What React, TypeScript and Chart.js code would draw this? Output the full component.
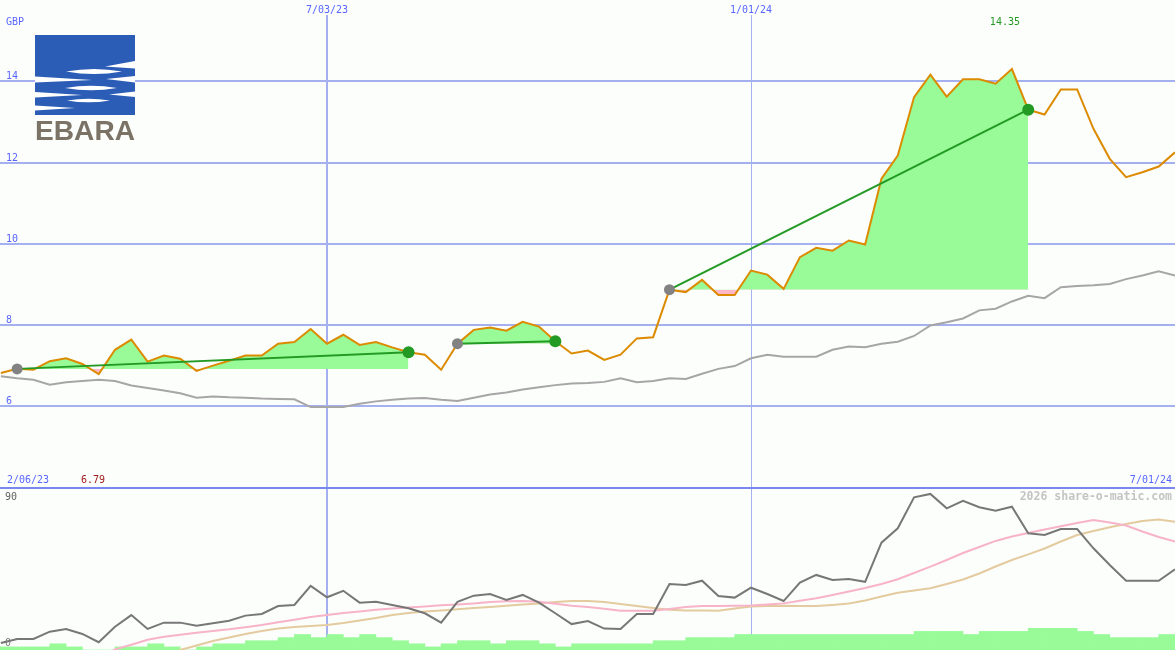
import React, { useEffect, useRef } from 'react';
import { Chart, registerables } from 'chart.js';

Chart.register(...registerables);

// ---------- data ----------
const currency = 'GBP';
const dateTickWeeks = [21, 47];
const dateTickLabels = ['7/03/23', '1/01/24'];
const viewStartWeek = 0.948;
const viewEndWeek = 73;
const firstWeek = 1;

const price = [
  6.82, 6.92, 6.9, 7.11, 7.18, 7.04, 6.79, 7.39, 7.64, 7.1,
  7.25, 7.17, 6.87, 7.0, 7.12, 7.25, 7.25, 7.54, 7.58, 7.9,
  7.54, 7.76, 7.51, 7.58, 7.45, 7.33, 7.27, 6.9, 7.54, 7.88,
  7.94, 7.86, 8.08, 7.96, 7.6, 7.3, 7.37, 7.14, 7.27, 7.67,
  7.7, 8.87, 8.81, 9.11, 8.74, 8.74, 9.34, 9.24, 8.89, 9.67,
  9.9, 9.83, 10.08, 9.98, 11.6, 12.17, 13.61, 14.16, 13.62, 14.05,
  14.05, 13.94, 14.3, 13.3, 13.18, 13.8, 13.8, 12.83, 12.09, 11.64,
  11.76, 11.9, 12.25,
];

const priceAverage = [
  6.74, 6.69, 6.65, 6.53, 6.59, 6.62, 6.65, 6.62, 6.51, 6.45,
  6.39, 6.32, 6.21, 6.24, 6.22, 6.21, 6.19, 6.18, 6.17, 5.98,
  5.98, 5.98, 6.06, 6.12, 6.16, 6.19, 6.2, 6.16, 6.13, 6.21,
  6.29, 6.34, 6.41, 6.47, 6.52, 6.56, 6.57, 6.6, 6.69, 6.59,
  6.62, 6.69, 6.67, 6.8, 6.92, 6.99, 7.18, 7.27, 7.22, 7.22,
  7.22, 7.39, 7.47, 7.45, 7.54, 7.59, 7.73, 7.99, 8.07, 8.16,
  8.36, 8.4, 8.58, 8.72, 8.66, 8.93, 8.96, 8.98, 9.01, 9.13,
  9.22, 9.32, 9.22,
];

const tradeEntryWeeks = [2, 29, 42];
const tradeExitWeeks = [26, 35, 64];

const oscillator = [
  3.9, 6.1, 6.1, 10.2, 11.7, 8.9, 4.3, 12.9, 19.4, 11.7,
  15.2, 15.2, 13.5, 14.8, 16.3, 19.1, 20.0, 24.4, 25.0, 35.6,
  29.3, 32.9, 26.3, 26.8, 25.0, 23.2, 20.4, 15.2, 26.8, 30.2,
  31.1, 27.8, 30.6, 26.3, 20.4, 14.4, 16.1, 11.9, 11.7, 20.0,
  20.0, 36.7, 36.1, 38.5, 30.0, 29.1, 34.6, 31.1, 27.2, 37.4,
  41.7, 38.9, 39.4, 37.9, 59.6, 67.6, 84.8, 86.7, 78.7, 82.9,
  79.3, 77.4, 79.6, 64.8, 63.9, 67.2, 67.2, 56.5, 47.2, 38.5,
  38.5, 38.5, 44.8,
];

const oscFast = [
  null, null, null, null, null, null, -5, 0.3, 2.9, 5.7,
  7.3, 8.5, 9.6, 10.6, 11.5, 12.7, 13.9, 15.4, 16.8, 18.3,
  19.4, 20.6, 21.4, 22.3, 23.1, 23.6, 24.1, 24.8, 25.3, 25.9,
  26.6, 27.1, 27.2, 26.8, 25.7, 24.6, 23.9, 22.9, 21.8, 21.8,
  21.8, 22.8, 23.9, 24.4, 24.4, 24.6, 24.7, 25.3, 25.9, 27.3,
  28.7, 30.6, 32.5, 34.4, 36.7, 39.3, 42.8, 46.3, 50.0, 53.9,
  57.2, 60.6, 63.1, 65.0, 66.9, 68.7, 70.6, 72.2, 70.8, 69.2,
  65.8, 62.8, 60.2,
];

const oscSlow = [
  null, null, null, null, null, null, null, null, null, null,
  -5, 0, 2.5, 5.0, 6.9, 8.9, 10.6, 11.9, 12.8, 13.3,
  13.9, 15.0, 16.4, 17.8, 19.4, 20.6, 21.4, 21.9, 22.6, 23.3,
  23.9, 24.6, 25.3, 25.9, 26.7, 27.2, 27.2, 26.7, 25.6, 24.4,
  23.3, 22.4, 22.0, 21.9, 21.8, 23.1, 24.2, 24.4, 24.6, 24.4,
  24.4, 25.0, 25.8, 27.5, 29.7, 31.8, 33.1, 34.3, 36.7, 39.2,
  42.5, 46.4, 50.0, 53.1, 56.4, 60.3, 63.9, 66.1, 68.2, 70.0,
  71.7, 72.5, 71.3,
];

// weekly volume bars (relative levels), interval starting at week 0
const volume = [
  1, 1, 1, 1, 2, 1, 0, 0, 1, 1,
  2, 1, 0, 1, 2, 2, 3, 3, 4, 5,
  4, 5, 4, 5, 4, 3, 2, 1, 2, 3,
  3, 2, 3, 3, 2, 1, 2, 2, 2, 2,
  2, 3, 3, 4, 4, 4, 5, 5, 5, 5,
  5, 5, 5, 5, 5, 5, 5, 6, 6, 6,
  5, 6, 6, 6, 7, 7, 7, 6, 5, 4,
  4, 4, 5,
];

const priceGridValues = [6, 8, 10, 12, 14];
const highWeek = 63;
const highLabel = '14.35';
const startLabel = '2/06/23';
const lowLabel = '6.79';
const endLabel = '7/01/24';
const oscTopLabel = '90';
const oscBottomLabel = '0';
const watermark = '2026 share-o-matic.com';

// ---------- styles ----------
const BG = '#fcfefc';
const GRID = '#a4b0f0';
const SEP = '#7888f0';
const BLUE = '#5866ff';
const ORANGE = '#dc8b00';
const MA_GRAY = '#a6a6a6';
const FILL_GREEN = '#98fb98';
const FILL_PINK = '#ffb6c6';
const TREND_GREEN = '#239a23';
const ENTRY_GRAY = '#828282';
const OSC_GRAY = '#777777';
const OSC_PINK = '#f7b3c8';
const OSC_TAN = '#e3cb9f';

const pts = (arr: (number | null)[], start: number) =>
  arr.map((v, k) => ({ x: start + k, y: v }));

const labelsPlugin = {
  id: 'labelsPlugin',
  beforeDraw(chart: any) {
    const { ctx, width, height } = chart;
    ctx.save();
    ctx.fillStyle = BG;
    ctx.fillRect(0, 0, width, height);
    ctx.restore();
  },
  afterDraw(chart: any) {
    const { ctx } = chart;
    const xs = chart.scales.x;
    const ys = chart.scales.y;
    ctx.save();
    ctx.fillStyle = BG;
    ctx.fillRect(0, 0, chart.width, 15);
    ctx.font = '10px "DejaVu Sans Mono", monospace';
    ctx.textBaseline = 'alphabetic';
    ctx.fillStyle = BLUE;
    ctx.textAlign = 'center';
    dateTickWeeks.forEach((w, i) => {
      ctx.fillText(dateTickLabels[i], xs.getPixelForValue(w), 13);
    });
    ctx.textAlign = 'left';
    ctx.fillText(currency, 6, 25);
    priceGridValues.forEach((v) => {
      ctx.fillText(String(v), 6, ys.getPixelForValue(v) - 2);
    });
    ctx.fillText(startLabel, 7, 483);
    ctx.textAlign = 'right';
    ctx.fillText(endLabel, 1172, 483);
    ctx.textAlign = 'left';
    ctx.fillStyle = '#a01c1c';
    ctx.fillText(lowLabel, 81, 483);
    ctx.fillStyle = '#239a23';
    ctx.textAlign = 'center';
    ctx.fillText(highLabel, xs.getPixelForValue(highWeek) - 7, 25);
    ctx.textAlign = 'left';
    ctx.fillStyle = '#606060';
    ctx.fillText(oscTopLabel, 5, 500);
    ctx.fillStyle = '#7a7a7a';
    ctx.fillText(oscBottomLabel, 5, 646);
    ctx.font = 'bold 11.5px "DejaVu Sans Mono", monospace';
    ctx.fillStyle = '#c4c4c4';
    ctx.textAlign = 'right';
    ctx.fillText(watermark, 1172, 500);
    ctx.restore();
  },
};

export default function App() {
  const ref = useRef<HTMLCanvasElement>(null);

  useEffect(() => {
    const canvas = ref.current;
    if (!canvas) return;

    const tradeFills = tradeEntryWeeks.map((entry, t) => {
      const exit = tradeExitWeeks[t];
      const base = price[entry - firstWeek];
      return {
        type: 'line',
        data: pts(price.slice(entry - firstWeek, exit - firstWeek + 1), entry),
        borderWidth: 0,
        borderColor: 'rgba(0,0,0,0)',
        pointRadius: 0,
        fill: { target: { value: base }, above: FILL_GREEN, below: FILL_PINK },
        yAxisID: 'y',
        order: 30,
      };
    });

    const trendLines = tradeEntryWeeks.map((entry, t) => {
      const exit = tradeExitWeeks[t];
      return {
        type: 'line',
        data: [
          { x: entry, y: price[entry - firstWeek] },
          { x: exit, y: price[exit - firstWeek] },
        ],
        borderColor: TREND_GREEN,
        borderWidth: 2,
        pointRadius: 0,
        fill: false,
        yAxisID: 'y',
        order: 6,
      };
    });

    const chart = new Chart(canvas, {
      type: 'line',
      data: {
        datasets: [
          {
            type: 'bar',
            data: volume.map((v, i) => ({ x: i + 0.5, y: v })),
            backgroundColor: FILL_GREEN,
            borderWidth: 0,
            barPercentage: 1,
            categoryPercentage: 1,
            grouped: false,
            yAxisID: 'y3',
            order: 40,
          },
          ...tradeFills,
          {
            data: pts(priceAverage, firstWeek),
            borderColor: MA_GRAY,
            borderWidth: 2,
            pointRadius: 0,
            fill: false,
            yAxisID: 'y',
            order: 20,
          },
          {
            data: pts(price, firstWeek),
            borderColor: ORANGE,
            borderWidth: 2,
            pointRadius: 0,
            fill: false,
            yAxisID: 'y',
            order: 10,
          },
          ...trendLines,
          {
            data: tradeEntryWeeks.map((w) => ({ x: w, y: price[w - firstWeek] })),
            showLine: false,
            pointRadius: 5.5,
            pointBackgroundColor: ENTRY_GRAY,
            pointBorderWidth: 0,
            borderWidth: 0,
            yAxisID: 'y',
            order: 2,
          },
          {
            data: tradeExitWeeks.map((w) => ({ x: w, y: price[w - firstWeek] })),
            showLine: false,
            pointRadius: 6,
            pointBackgroundColor: TREND_GREEN,
            pointBorderWidth: 0,
            borderWidth: 0,
            yAxisID: 'y',
            order: 1,
          },
          {
            data: pts(oscSlow, firstWeek),
            borderColor: OSC_TAN,
            borderWidth: 2,
            pointRadius: 0,
            fill: false,
            yAxisID: 'y2',
            order: 16,
          },
          {
            data: pts(oscFast, firstWeek),
            borderColor: OSC_PINK,
            borderWidth: 2,
            pointRadius: 0,
            fill: false,
            yAxisID: 'y2',
            order: 15,
          },
          {
            data: pts(oscillator, firstWeek),
            borderColor: OSC_GRAY,
            borderWidth: 2,
            pointRadius: 0,
            fill: false,
            yAxisID: 'y2',
            order: 14,
          },
        ] as any,
      },
      options: {
        animation: false,
        responsive: false,
        maintainAspectRatio: false,
        parsing: true,
        layout: { padding: 0, autoPadding: false },
        elements: { line: { tension: 0 }, point: { radius: 0 } },
        plugins: { legend: { display: false }, tooltip: { enabled: false } },
        scales: {
          x: {
            type: 'linear',
            min: viewStartWeek,
            max: viewEndWeek,
            offset: false,
            position: 'bottom',
            afterBuildTicks: (s: any) => {
              s.ticks = dateTickWeeks.map((v) => ({ value: v }));
            },
            ticks: { display: false },
            grid: {
              color: GRID,
              lineWidth: (c: any) => (c.tick && c.tick.value === dateTickWeeks[0] ? 2 : 1),
              drawTicks: false,
              offset: false,
            },
            border: { display: false },
          },
          y: {
            type: 'linear',
            min: 0,
            max: 16,
            position: 'left',
            ticks: { display: false, stepSize: 2 },
            grid: {
              color: (c: any) => {
                const v = c.tick ? c.tick.value : null;
                if (v === 4) return SEP;
                if (priceGridValues.includes(v)) return GRID;
                return 'rgba(0,0,0,0)';
              },
              lineWidth: 2,
              drawTicks: false,
            },
            border: { display: false },
          },
          y2: { type: 'linear', display: false, min: 0, max: (90 * 650) / 162 },
          y3: { type: 'linear', display: false, min: 0, max: 650 / 3.1 },
        },
      } as any,
      plugins: [labelsPlugin],
    });

    return () => chart.destroy();
  }, []);

  return (
    <div
      style={{
        position: 'fixed',
        left: 0,
        top: 0,
        width: 1175,
        height: 650,
        background: BG,
        overflow: 'hidden',
      }}
    >
      <canvas ref={ref} width={1175} height={650} style={{ display: 'block', width: 1175, height: 650 }} />
      <svg width={100} height={106} style={{ position: 'absolute', left: 35, top: 35 }}>
        <rect x={0} y={0} width={100} height={80} fill="#2c5db6" />
        <g fill="#ffffff">
          <path d="M100,26 L100,33.5 L70,31.5 Z" />
          <path d="M31,36.5 Q59,31.5 87,36.5 Q59,41.5 31,36.5 Z" />
          <path d="M0,41.5 L0,47.5 L57,45 Z" />
          <path d="M100,41 L100,47.5 L71,44 Z" />
          <path d="M30,53 Q56,48.5 82,53 Q56,57.5 30,53 Z" />
          <path d="M0,57 L0,62.5 L47,60 Z" />
          <path d="M100,56.5 L100,62 L74,59.5 Z" />
          <path d="M32,65.5 Q53,61.8 75,65.5 Q53,69.2 32,65.5 Z" />
          <path d="M0,70.5 L0,75.5 L40,73 Z" />
        </g>
        <text
          x={0}
          y={104.5}
          fontFamily="'Liberation Sans', Arial, sans-serif"
          fontWeight="bold"
          fontSize={28}
          fill="#7c7367"
          textLength={100}
          lengthAdjust="spacingAndGlyphs"
        >
          EBARA
        </text>
      </svg>
    </div>
  );
}
